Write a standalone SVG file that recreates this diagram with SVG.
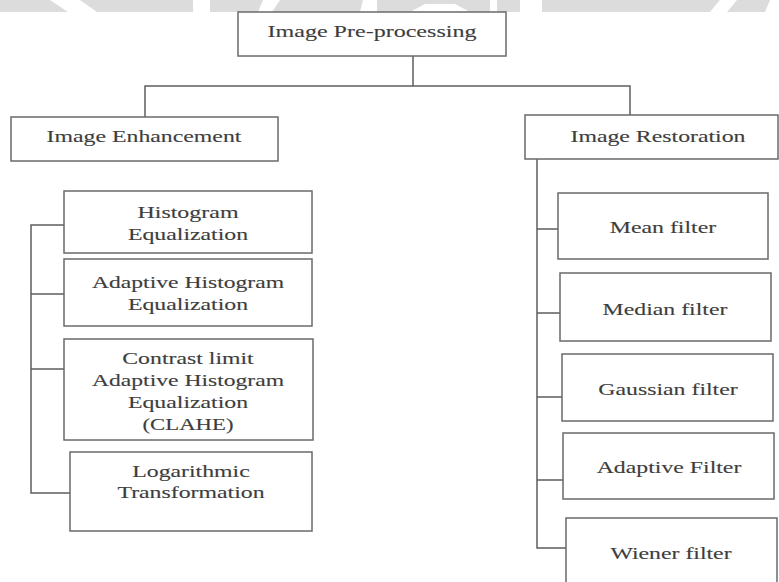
<svg xmlns="http://www.w3.org/2000/svg" width="779" height="582" viewBox="0 0 779 582">
<style>
.box{fill:#fff;stroke:#6a6a6a;stroke-width:1.5}
.ln{fill:none;stroke:#5e5e5e;stroke-width:1.5}
text{font-family:"Liberation Serif","Times New Roman",serif;font-size:17.5px;fill:#3c3c3c;stroke:#555;stroke-width:0.15;text-anchor:middle}
.wm{fill:#dcdcdc}
</style>
<rect width="779" height="582" fill="#fff"/>
<g id="watermark">
<rect class="wm" x="0" y="0" width="779" height="12"/>
<polygon fill="#fff" points="50,0 80,0 97,12 68,12"/>
<rect fill="#fff" x="193" y="0" width="17" height="12"/>
<polygon fill="#fff" points="263,0 280,0 272,12 258,12"/>
<polygon fill="#fff" points="363,0 377,0 377,12 360,12"/>
<polygon fill="#fff" points="410,12 470,12 455,4 425,4"/>
<rect fill="#fff" x="490" y="0" width="7" height="12"/>
<rect fill="#fff" x="520" y="0" width="22" height="12"/>
<polygon fill="#fff" points="720,0 737,0 727,12 710,12"/>
<polygon fill="#fff" points="770,0 779,0 779,12 765,12"/>
</g>
<g id="connectors">
<path class="ln" d="M413,56V86M145,117V86H630V115"/>
<path class="ln" d="M64,225H31V493H70M31,294H64M31,369H64"/>
<path class="ln" d="M537,159V548H566M537,229H558M537,313H560M537,397H562M537,480H563"/>
</g>
<g id="n-preprocessing">
<rect class="box" x="238" y="12" width="268" height="44"/>
<text transform="translate(372,37) scale(1.375,1)">Image Pre-processing</text>
</g>
<g id="n-enhancement">
<rect class="box" x="11" y="117" width="267" height="44"/>
<text transform="translate(144,142) scale(1.36,1)">Image Enhancement</text>
</g>
<g id="n-restoration">
<rect class="box" x="525" y="115" width="253" height="44"/>
<text transform="translate(658,142) scale(1.36,1)">Image Restoration</text>
</g>
<g id="n-he">
<rect class="box" x="64" y="191" width="248" height="62"/>
<text transform="translate(188,218) scale(1.37,1)">Histogram</text>
<text transform="translate(188,240) scale(1.36,1)">Equalization</text>
</g>
<g id="n-ahe">
<rect class="box" x="64" y="259" width="248" height="67"/>
<text transform="translate(188,288) scale(1.35,1)">Adaptive Histogram</text>
<text transform="translate(188,310) scale(1.36,1)">Equalization</text>
</g>
<g id="n-clahe">
<rect class="box" x="64" y="339" width="249" height="101"/>
<text transform="translate(188,364) scale(1.36,1)">Contrast limit</text>
<text transform="translate(188,386) scale(1.35,1)">Adaptive Histogram</text>
<text transform="translate(188,408) scale(1.36,1)">Equalization</text>
<text transform="translate(188,430) scale(1.3,1)">(CLAHE)</text>
</g>
<g id="n-log">
<rect class="box" x="70" y="452" width="242" height="79"/>
<text transform="translate(191,477) scale(1.36,1)">Logarithmic</text>
<text transform="translate(191,498) scale(1.36,1)">Transformation</text>
</g>
<g id="n-mean">
<rect class="box" x="558" y="193" width="210" height="66"/>
<text transform="translate(663,233) scale(1.36,1)">Mean filter</text>
</g>
<g id="n-median">
<rect class="box" x="560" y="273" width="211" height="68"/>
<text transform="translate(665,315) scale(1.36,1)">Median filter</text>
</g>
<g id="n-gaussian">
<rect class="box" x="562" y="354" width="211" height="67"/>
<text transform="translate(668,395) scale(1.36,1)">Gaussian filter</text>
</g>
<g id="n-adaptive">
<rect class="box" x="563" y="433" width="211" height="66"/>
<text transform="translate(669,473) scale(1.36,1)">Adaptive Filter</text>
</g>
<g id="n-wiener">
<rect class="box" x="566" y="518" width="211" height="72"/>
<text transform="translate(671,559) scale(1.36,1)">Wiener filter</text>
</g>
</svg>
